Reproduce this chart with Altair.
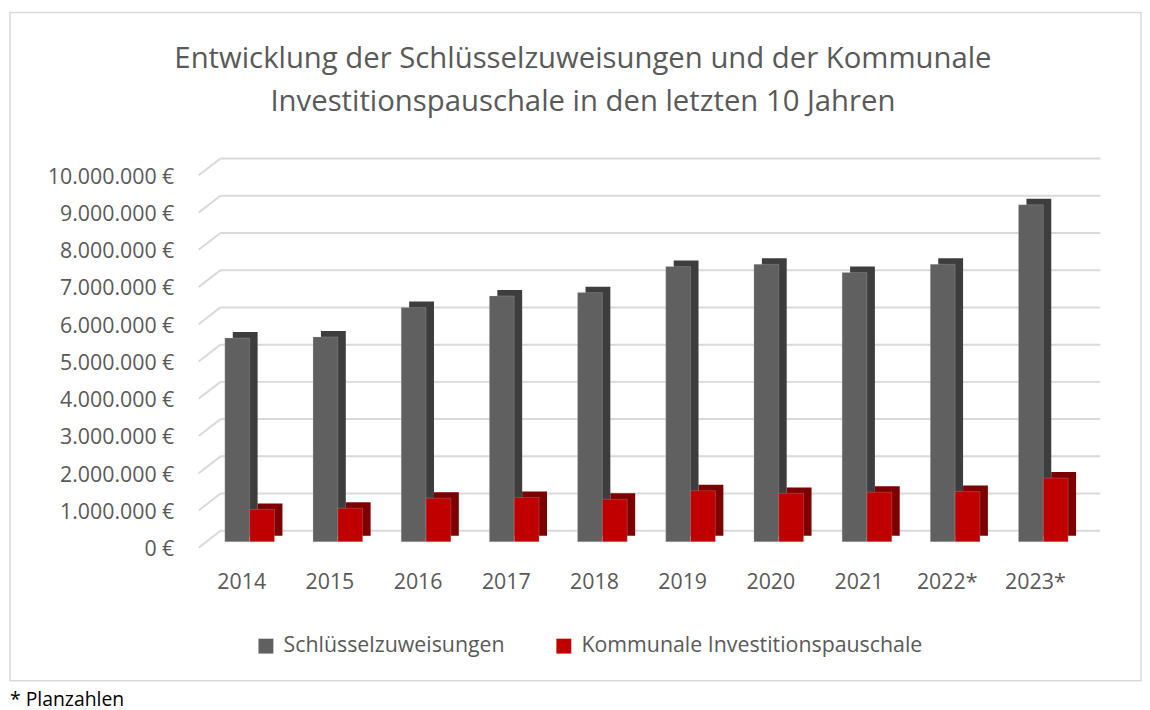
import altair as alt
import pandas as pd

years = ["2014", "2015", "2016", "2017", "2018", "2019", "2020", "2021", "2022*", "2023*"]
series = ["Schlüsselzuweisungen", "Kommunale Investitionspauschale"]
schluessel = [5470000, 5500000, 6290000, 6600000, 6690000, 7390000, 7450000, 7230000, 7450000, 9050000]
kip = [870000, 900000, 1170000, 1190000, 1140000, 1370000, 1300000, 1330000, 1350000, 1710000]
grid_vals = [0, 1000000, 2000000, 3000000, 4000000, 5000000, 6000000, 7000000, 8000000, 9000000, 10000000]
title_lines = ["Entwicklung der Schlüsselzuweisungen und der Kommunale",
               "Investitionspauschale in den letzten 10 Jahren"]
footnote = "* Planzahlen"

front_colors = ["#606060", "#c00000"]
side_colors = ["#3d3d3d", "#7c0000"]
FONT = "Open Sans"
TXT = "#595959"
GRID = "#d9d9d9"
FS = 21.5

rows = []
for i, y in enumerate(years):
    rows.append({"year": y, "series": series[0], "value": schluessel[i]})
    rows.append({"year": y, "series": series[1], "value": kip[i]})
df = pd.DataFrame(rows)
gdf = pd.DataFrame({"v": grid_vals})

yscale = alt.Scale(domain=[0, 10000000], nice=False)
yaxis = alt.Axis(title=None, values=grid_vals, domain=False, ticks=False, grid=False,
                 labelFont=FONT, labelFontSize=FS, labelColor=TXT, labelPadding=25,
                 labelOffset=8, labelOverlap=False,
                 labelExpr="replace(format(datum.value, ','), regexp(',', 'g'), '.') + ' €'")
xscale = alt.Scale(domain=years, paddingInner=0.7185, paddingOuter=0.359)
xaxis = alt.Axis(title=None, domain=False, ticks=False, labelAngle=0,
                 labelFont=FONT, labelFontSize=FS, labelColor=TXT,
                 labelPadding=30, labelOffset=-1)

border = alt.Chart(pd.DataFrame({"a": [0]})).mark_rect(
    filled=False, stroke=GRID, strokeWidth=1.5
).encode(x=alt.value(-190), x2=alt.value(949), y=alt.value(-158), y2=alt.value(515))

grid_back = alt.Chart(gdf).mark_rule(color=GRID, strokeWidth=2, yOffset=-11).encode(
    y=alt.Y("v:Q", scale=yscale, axis=yaxis),
    x=alt.value(22), x2=alt.value(908))

grid_diag = alt.Chart(gdf).mark_rule(color=GRID, strokeWidth=2, yOffset=6, y2Offset=-11).encode(
    y=alt.Y("v:Q", scale=yscale, axis=yaxis), y2="v:Q",
    x=alt.value(0), x2=alt.value(22))


def bars(name, front_off, color_side):
    base = alt.Chart(df).transform_filter(alt.datum.series == name)
    side = base.mark_bar(xOffset=front_off + 8, yOffset=-6, y2Offset=-6, color=color_side).encode(
        x=alt.X("year:N", scale=xscale, axis=xaxis),
        y=alt.Y("value:Q", scale=yscale, axis=yaxis))
    front = base.mark_bar(xOffset=front_off, stroke="#c8c8c8", strokeWidth=0.5,
                          strokeOpacity=0.5).encode(
        x=alt.X("year:N", scale=xscale, axis=xaxis),
        y=alt.Y("value:Q", scale=yscale, axis=yaxis),
        color=alt.Color("series:N", sort=series,
                        scale=alt.Scale(domain=series, range=front_colors),
                        legend=alt.Legend(title=None, orient="none", legendX=57, legendY=469,
                                          direction="horizontal", symbolType="square",
                                          symbolSize=225, symbolStrokeWidth=0,
                                          labelFont=FONT, labelFontSize=FS, labelColor=TXT,
                                          labelLimit=0, labelOffset=7, columnPadding=48)))
    return side, front


g_side, g_front = bars(series[0], -5.5, side_colors[0])
r_side, r_front = bars(series[1], 19.5, side_colors[1])

t1 = alt.Chart(pd.DataFrame({"t": [title_lines[0]]})).mark_text(
    font=FONT, fontSize=29.5, color=TXT, align="center", baseline="middle"
).encode(x=alt.value(387), y=alt.value(-111), text="t:N")
t2 = alt.Chart(pd.DataFrame({"t": [title_lines[1]]})).mark_text(
    font=FONT, fontSize=29.5, color=TXT, align="center", baseline="middle"
).encode(x=alt.value(387), y=alt.value(-68), text="t:N")
fn = alt.Chart(pd.DataFrame({"t": [footnote]})).mark_text(
    font=FONT, fontSize=19.5, color="#000000", align="left", baseline="middle"
).encode(x=alt.value(-190), y=alt.value(534), text="t:N")

chart = alt.layer(border, grid_back, grid_diag, g_side, g_front, r_side, r_front, t1, t2, fn).properties(
    width=888, height=375, autosize="none",
    padding={"left": 192, "top": 160, "right": 62, "bottom": 176}
).configure_view(stroke=None).configure_axisY(labelOverlap=False)

chart.save("out.html", embed_options={"renderer": "svg", "actions": False})
